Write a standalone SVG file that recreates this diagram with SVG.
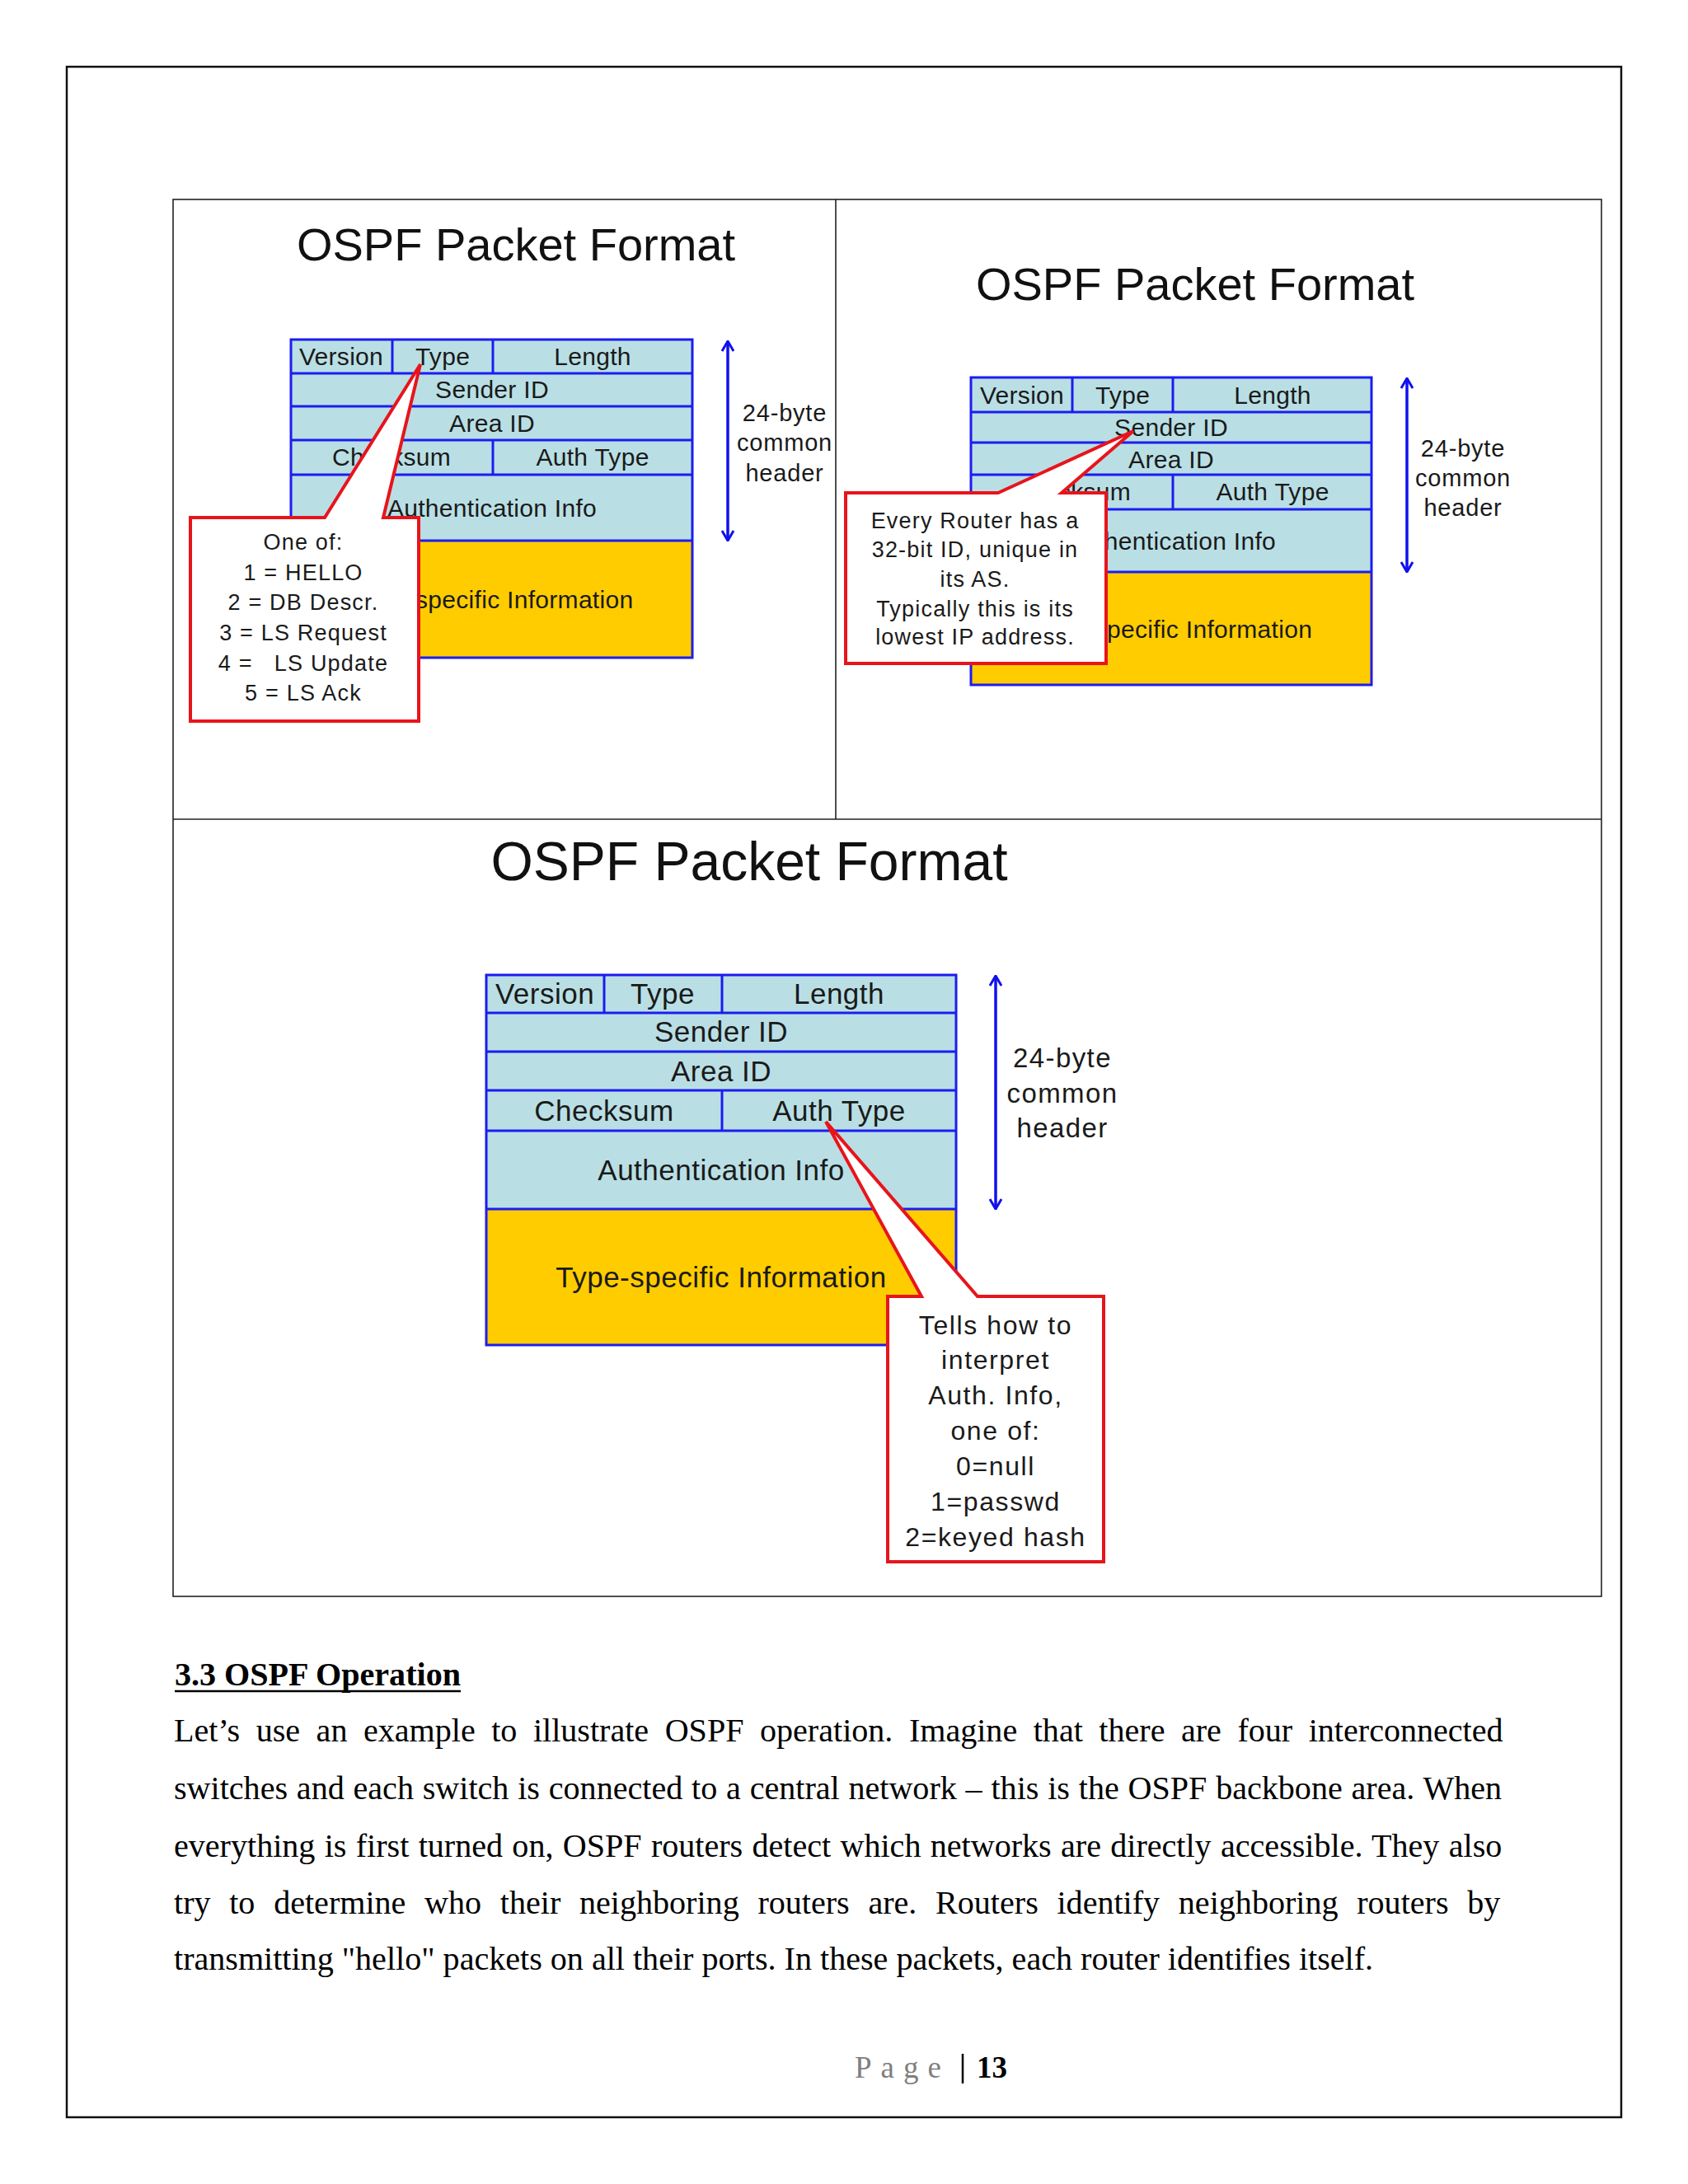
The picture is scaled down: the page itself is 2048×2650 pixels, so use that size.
<svg xmlns="http://www.w3.org/2000/svg" width="2048" height="2650" viewBox="0 0 2048 2650">
<style>
.bg{fill:#ffffff}
.page{fill:none;stroke:#111;stroke-width:2.5}
.frame{fill:none;stroke:#222;stroke-width:1.6}
.cell{fill:#b9dfe5}
.yel{fill:#ffcc00}
.grid{fill:none;stroke:#1c1cf0;stroke-width:3}
.title{font-family:"Liberation Sans",Arial,sans-serif;fill:#111;text-anchor:middle}
.t1{font-size:56px}
.t3{font-size:66px}
.lbl{font-family:"Liberation Sans",Arial,sans-serif;fill:#1a1a1a;text-anchor:middle}
.st{text-anchor:start}
.s{font-size:30px;letter-spacing:0.3px}
.m{font-size:35px;letter-spacing:0.5px}
.co{fill:#ffffff;stroke:#e8141c;stroke-width:4;stroke-linejoin:miter}
.ct{font-family:"Liberation Sans",Arial,sans-serif;fill:#1a1a1a;text-anchor:middle}
.cs{font-size:27px;letter-spacing:1.2px}
.cm{font-size:32px;letter-spacing:1.6px}
.hd{font-family:"Liberation Sans",Arial,sans-serif;fill:#1a1a1a;text-anchor:middle}
.hs{font-size:29px;letter-spacing:0.8px}
.hm{font-size:33px;letter-spacing:1.4px}
.arr{stroke:#1010ee;stroke-width:3.5;fill:none}
.body{font-family:"Liberation Serif","Times New Roman",serif;font-size:40.1px;fill:#000}
</style>
<defs>
<marker id="ah" viewBox="0 0 14 16" refX="13" refY="8" markerWidth="14" markerHeight="16" markerUnits="userSpaceOnUse" orient="auto-start-reverse">
<path d="M1,1 L13,8 L1,15" fill="none" stroke="#1010ee" stroke-width="3"/>
</marker>
</defs>
<rect class="bg" x="0" y="0" width="2048" height="2650"/>
<rect id="page-border" class="page" x="81" y="81" width="1886" height="2488"/>

<g id="figure-frame">
<rect class="frame" x="210" y="242" width="1733" height="1695"/>
<line class="frame" x1="1014" y1="242" x2="1014" y2="994"/>
<line class="frame" x1="210" y1="994" x2="1943" y2="994"/>
</g>

<!-- Panel 1 -->
<g id="panel1">
<text id="p1-title" class="title t1" x="626" y="316">OSPF Packet Format</text>
<g id="p1-table">
<rect class="cell" x="353" y="412" width="487" height="244"/>
<rect class="yel" x="353" y="656" width="487" height="142"/>
<path class="grid" d="M353,412 H840 V798 H353 Z M353,453 H840 M353,493 H840 M353,534 H840 M353,576 H840 M353,656 H840 M476,412 V453 M598,412 V453 M598,534 V576"/>
<text class="lbl s" x="414" y="443">Version</text>
<text class="lbl s" x="537" y="443">Type</text>
<text class="lbl s" x="719" y="443">Length</text>
<text class="lbl s" x="597" y="483">Sender ID</text>
<text class="lbl s" x="597" y="524">Area ID</text>
<text class="lbl s" x="475" y="565">Checksum</text>
<text class="lbl s" x="719" y="565">Auth Type</text>
<text class="lbl s" x="597" y="627">Authentication Info</text>
<text class="lbl s st" x="504" y="738">specific Information</text>
</g>
<g id="p1-header-label">
<text class="hd hs" x="952" y="511">24-byte</text>
<text class="hd hs" x="952" y="547">common</text>
<text class="hd hs" x="952" y="584">header</text>
</g>
<g id="p1-callout">
<path class="co" d="M231,628 L394,628 L510,442 L465,628 L508,628 L508,875 L231,875 Z"/>
<text class="ct cs" x="368" y="667">One of:</text>
<text class="ct cs" x="368" y="704">1 = HELLO</text>
<text class="ct cs" x="368" y="740">2 =  DB Descr.</text>
<text class="ct cs" x="368" y="777">3 = LS Request</text>
<text class="ct cs" x="368" y="814" xml:space="preserve">4 =   LS Update</text>
<text class="ct cs" x="368" y="850">5 = LS Ack</text>
</g>
</g>

<!-- Panel 2 -->
<g id="panel2">
<text id="p2-title" class="title t1" x="1450" y="364">OSPF Packet Format</text>
<g id="p2-table">
<rect class="cell" x="1178" y="458" width="486" height="236"/>
<rect class="yel" x="1178" y="694" width="486" height="137"/>
<path class="grid" d="M1178,458 H1664 V831 H1178 Z M1178,500 H1664 M1178,537 H1664 M1178,576 H1664 M1178,618 H1664 M1178,694 H1664 M1301,458 V500 M1423,458 V500 M1423,576 V618"/>
<text class="lbl s" x="1240" y="490">Version</text>
<text class="lbl s" x="1362" y="490">Type</text>
<text class="lbl s" x="1544" y="490">Length</text>
<text class="lbl s" x="1421" y="529">Sender ID</text>
<text class="lbl s" x="1421" y="568">Area ID</text>
<text class="lbl s" x="1300" y="607">Checksum</text>
<text class="lbl s" x="1544" y="607">Auth Type</text>
<text class="lbl s" x="1421" y="667">Authentication Info</text>
<text class="lbl s st" x="1343" y="774">pecific Information</text>
</g>
<g id="p2-header-label">
<text class="hd hs" x="1775" y="554">24-byte</text>
<text class="hd hs" x="1775" y="590">common</text>
<text class="hd hs" x="1775" y="626">header</text>
</g>
<g id="p2-callout">
<path class="co" d="M1026,598 L1211,598 L1375,523 L1288,598 L1342,598 L1342,805 L1026,805 Z"/>
<text class="ct cs" x="1183" y="641">Every Router has a</text>
<text class="ct cs" x="1183" y="676">32-bit ID, unique in</text>
<text class="ct cs" x="1183" y="712">its AS.</text>
<text class="ct cs" x="1183" y="748">Typically this is its</text>
<text class="ct cs" x="1183" y="782">lowest IP address.</text>
</g>
</g>

<!-- Panel 3 -->
<g id="panel3">
<text id="p3-title" class="title t3" x="909" y="1068">OSPF Packet Format</text>
<g id="p3-table">
<rect class="cell" x="590" y="1183" width="570" height="284"/>
<rect class="yel" x="590" y="1467" width="570" height="165"/>
<path class="grid" d="M590,1183 H1160 V1632 H590 Z M590,1229 H1160 M590,1276 H1160 M590,1323 H1160 M590,1372 H1160 M590,1467 H1160 M733,1183 V1229 M876,1183 V1229 M876,1323 V1372"/>
<text class="lbl m" x="661" y="1218">Version</text>
<text class="lbl m" x="804" y="1218">Type</text>
<text class="lbl m" x="1018" y="1218">Length</text>
<text class="lbl m" x="875" y="1264">Sender ID</text>
<text class="lbl m" x="875" y="1312">Area ID</text>
<text class="lbl m" x="733" y="1360">Checksum</text>
<text class="lbl m" x="1018" y="1360">Auth Type</text>
<text class="lbl m" x="875" y="1432">Authentication Info</text>
<text class="lbl m" x="875" y="1562">Type-specific Information</text>
</g>
<g id="p3-header-label">
<text class="hd hm" x="1289" y="1295">24-byte</text>
<text class="hd hm" x="1289" y="1338">common</text>
<text class="hd hm" x="1289" y="1380">header</text>
</g>
<g id="p3-callout">
<path class="co" d="M1077,1573 L1118,1573 L1002,1361 L1186,1573 L1339,1573 L1339,1895 L1077,1895 Z"/>
<text class="ct cm" x="1208" y="1619">Tells how to</text>
<text class="ct cm" x="1208" y="1661">interpret</text>
<text class="ct cm" x="1208" y="1704">Auth. Info,</text>
<text class="ct cm" x="1208" y="1747">one of:</text>
<text class="ct cm" x="1208" y="1790">0=null</text>
<text class="ct cm" x="1208" y="1833">1=passwd</text>
<text class="ct cm" x="1208" y="1876">2=keyed hash</text>
</g>
</g>

<g id="connectors">
<line class="arr" x1="883" y1="414" x2="883" y2="656" marker-start="url(#ah)" marker-end="url(#ah)"/>
<line class="arr" x1="1707" y1="459" x2="1707" y2="694" marker-start="url(#ah)" marker-end="url(#ah)"/>
<line class="arr" x1="1208" y1="1184" x2="1208" y2="1467" marker-start="url(#ah)" marker-end="url(#ah)"/>
</g>

<g id="body-text">
<text class="body" x="212" y="2045" font-weight="bold">3.3 OSPF Operation</text>
<line x1="212" y1="2052" x2="559" y2="2052" stroke="#000" stroke-width="2.5"/>
<text class="body" x="211" y="2113" word-spacing="9.5">Let’s use an example to illustrate OSPF operation. Imagine that there are four interconnected</text>
<text class="body" x="211" y="2183" word-spacing="0.8">switches and each switch is connected to a central network – this is the OSPF backbone area. When</text>
<text class="body" x="211" y="2253" word-spacing="1.3">everything is first turned on, OSPF routers detect which networks are directly accessible. They also</text>
<text class="body" x="211" y="2322" word-spacing="12.7">try to determine who their neighboring routers are. Routers identify neighboring routers by</text>
<text class="body" x="211" y="2390">transmitting "hello" packets on all their ports. In these packets, each router identifies itself.</text>
</g>

<g id="page-number">
<text x="1037" y="2521" font-family="Liberation Serif,'Times New Roman',serif" font-size="37" fill="#7f7f7f" letter-spacing="11">Page</text>
<line x1="1168" y1="2492" x2="1168" y2="2528" stroke="#000" stroke-width="2.5"/>
<text x="1185" y="2521" font-family="Liberation Serif,'Times New Roman',serif" font-size="37" font-weight="bold" fill="#000">13</text>
</g>
</svg>
